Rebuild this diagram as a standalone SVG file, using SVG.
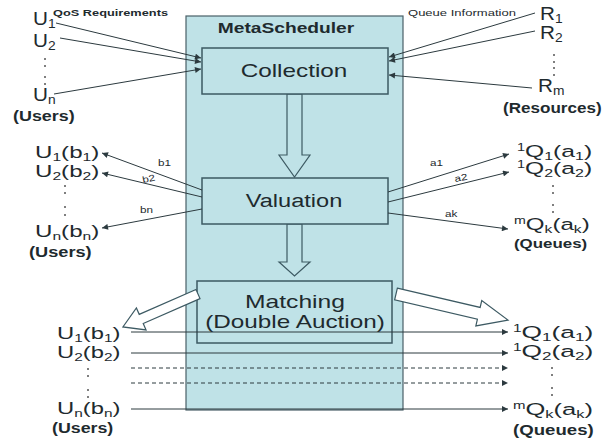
<svg xmlns="http://www.w3.org/2000/svg" width="606" height="447" viewBox="0 0 606 447">
<defs>
<style>
.t{font-family:"Liberation Sans",Arial,sans-serif;fill:#1e2a2e}
.top{font-size:18px}
.lab{font-size:17px}
.bold{font-weight:bold}
.ed{font-size:9px}
.box{fill:#bfe2e7;stroke:#3d5a63;stroke-width:1.5}
.main{fill:#bfe2e7;stroke:#4a6068;stroke-width:1.2}
.ln{stroke:#2c3a3f;stroke-width:1;fill:none}
.dash{stroke:#2c3a3f;stroke-width:1;fill:none;stroke-dasharray:4 3}
.hollow{fill:#ffffff;stroke:#3d5a63;stroke-width:1.2}
.hollow2{fill:#bfe2e7;stroke:#3d5a63;stroke-width:1.2}
.dot{fill:#555}
</style>
<marker id="ah" viewBox="0 0 10 10" refX="10" refY="5" markerWidth="7" markerHeight="6" markerUnits="userSpaceOnUse" orient="auto">
<path d="M0,0 L10,5 L0,10 z" fill="#2c3a3f"/>
</marker>
</defs>
<rect width="606" height="447" fill="#ffffff"/>

<g id="metascheduler">
<rect class="main" x="186" y="16" width="217" height="394"/>
<text class="t bold" font-size="14" text-anchor="middle" transform="translate(286,33) scale(1.37,1)">MetaScheduler</text>
</g>

<g id="flow-arrows">
<polygon class="hollow2" points="287,94 302,94 302,155 310,155 294.5,177 279,155 287,155"/>
<polygon class="hollow2" points="287,224 302,224 302,262 310,262 294.5,276 279,262 287,262"/>
</g>

<g id="collection">
<rect class="box" x="202" y="48" width="186" height="46"/>
<text class="t" font-size="18" text-anchor="middle" transform="translate(294,77) scale(1.35,1)">Collection</text>
</g>

<g id="valuation">
<rect class="box" x="202" y="178" width="186" height="46"/>
<text class="t" font-size="18" text-anchor="middle" transform="translate(294,207) scale(1.31,1)">Valuation</text>
</g>

<g id="matching">
<rect class="box" x="197" y="281" width="195" height="62"/>
<text class="t" font-size="18" text-anchor="middle" transform="translate(295,308) scale(1.37,1)">Matching</text>
<text class="t" font-size="18" text-anchor="middle" transform="translate(295,328) scale(1.35,1)">(Double Auction)</text>
</g>

<g id="users-top">
<text class="t top" transform="translate(33,25) scale(1.15,1)">U<tspan font-size="12" dy="3">1</tspan></text>
<text class="t bold" font-size="9" transform="translate(53,16) scale(1.42,1)">QoS Requirements</text>
<text class="t top" transform="translate(33,47) scale(1.15,1)">U<tspan font-size="12" dy="3">2</tspan></text>
<circle class="dot" cx="45" cy="59" r="1"/>
<circle class="dot" cx="45" cy="66" r="1"/>
<circle class="dot" cx="45" cy="77" r="1"/>
<circle class="dot" cx="45" cy="84" r="1"/>
<text class="t top" transform="translate(33,101) scale(1.15,1)">U<tspan font-size="12" dy="3">n</tspan></text>
<text class="t bold" font-size="14" transform="translate(13,121) scale(1.28,1)">(Users)</text>
</g>

<g id="resources">
<text class="t" font-size="9" transform="translate(408,16) scale(1.45,1)">Queue  Information</text>
<text class="t top" transform="translate(540,20) scale(1.15,1)">R<tspan font-size="12" dy="3">1</tspan></text>
<text class="t top" transform="translate(540,39) scale(1.15,1)">R<tspan font-size="12" dy="3">2</tspan></text>
<circle class="dot" cx="554" cy="55" r="1"/>
<circle class="dot" cx="554" cy="62" r="1"/>
<circle class="dot" cx="554" cy="68" r="1"/>
<circle class="dot" cx="554" cy="75" r="1"/>
<text class="t top" transform="translate(538,92) scale(1.15,1)">R<tspan font-size="12" dy="3">m</tspan></text>
<text class="t bold" font-size="14" transform="translate(503,113) scale(1.22,1)">(Resources)</text>
</g>

<g id="users-mid">
<text class="t lab" transform="translate(35,158) scale(1.42,1)">U<tspan font-size="11" dy="3">1</tspan><tspan dy="-3">(b</tspan><tspan font-size="11" dy="3">1</tspan><tspan dy="-3">)</tspan></text>
<text class="t lab" transform="translate(35,177) scale(1.42,1)">U<tspan font-size="11" dy="3">2</tspan><tspan dy="-3">(b</tspan><tspan font-size="11" dy="3">2</tspan><tspan dy="-3">)</tspan></text>
<circle class="dot" cx="65" cy="186" r="1"/>
<circle class="dot" cx="65" cy="193" r="1"/>
<circle class="dot" cx="65" cy="207" r="1"/>
<circle class="dot" cx="65" cy="215" r="1"/>
<text class="t lab" transform="translate(35,237) scale(1.42,1)">U<tspan font-size="11" dy="3">n</tspan><tspan dy="-3">(b</tspan><tspan font-size="11" dy="3">n</tspan><tspan dy="-3">)</tspan></text>
<text class="t bold" font-size="14" transform="translate(29,257) scale(1.3,1)">(Users)</text>
</g>

<g id="queues-mid">
<text class="t lab" transform="translate(517,157) scale(1.45,1)"><tspan font-size="10" dy="-6">1</tspan><tspan dy="6">Q</tspan><tspan font-size="11" dy="3">1</tspan><tspan dy="-3">(a</tspan><tspan font-size="11" dy="3">1</tspan><tspan dy="-3">)</tspan></text>
<text class="t lab" transform="translate(517,174) scale(1.45,1)"><tspan font-size="10" dy="-6">1</tspan><tspan dy="6">Q</tspan><tspan font-size="11" dy="3">2</tspan><tspan dy="-3">(a</tspan><tspan font-size="11" dy="3">2</tspan><tspan dy="-3">)</tspan></text>
<circle class="dot" cx="553" cy="186" r="1"/>
<circle class="dot" cx="553" cy="193" r="1"/>
<circle class="dot" cx="553" cy="205" r="1"/>
<circle class="dot" cx="553" cy="212" r="1"/>
<text class="t lab" transform="translate(514,230) scale(1.42,1)"><tspan font-size="10" dy="-6">m</tspan><tspan dy="6">Q</tspan><tspan font-size="11" dy="3">k</tspan><tspan dy="-3">(a</tspan><tspan font-size="11" dy="3">k</tspan><tspan dy="-3">)</tspan></text>
<text class="t bold" font-size="13" transform="translate(514,248) scale(1.3,1)">(Queues)</text>
</g>

<g id="users-bottom">
<text class="t lab" transform="translate(57,339) scale(1.4,1)">U<tspan font-size="11" dy="3">1</tspan><tspan dy="-3">(b</tspan><tspan font-size="11" dy="3">1</tspan><tspan dy="-3">)</tspan></text>
<text class="t lab" transform="translate(57,358) scale(1.4,1)">U<tspan font-size="11" dy="3">2</tspan><tspan dy="-3">(b</tspan><tspan font-size="11" dy="3">2</tspan><tspan dy="-3">)</tspan></text>
<circle class="dot" cx="88" cy="369" r="1"/>
<circle class="dot" cx="88" cy="376" r="1"/>
<circle class="dot" cx="88" cy="390" r="1"/>
<circle class="dot" cx="88" cy="397" r="1"/>
<text class="t lab" transform="translate(57,414) scale(1.4,1)">U<tspan font-size="11" dy="3">n</tspan><tspan dy="-3">(b</tspan><tspan font-size="11" dy="3">n</tspan><tspan dy="-3">)</tspan></text>
<text class="t bold" font-size="14" transform="translate(52,433) scale(1.27,1)">(Users)</text>
</g>

<g id="queues-bottom">
<text class="t lab" transform="translate(513,338) scale(1.55,1)"><tspan font-size="10" dy="-6">1</tspan><tspan dy="6">Q</tspan><tspan font-size="11" dy="3">1</tspan><tspan dy="-3">(a</tspan><tspan font-size="11" dy="3">1</tspan><tspan dy="-3">)</tspan></text>
<text class="t lab" transform="translate(513,357) scale(1.55,1)"><tspan font-size="10" dy="-6">1</tspan><tspan dy="6">Q</tspan><tspan font-size="11" dy="3">2</tspan><tspan dy="-3">(a</tspan><tspan font-size="11" dy="3">2</tspan><tspan dy="-3">)</tspan></text>
<circle class="dot" cx="552" cy="368" r="1"/>
<circle class="dot" cx="552" cy="375" r="1"/>
<circle class="dot" cx="552" cy="388" r="1"/>
<circle class="dot" cx="552" cy="395" r="1"/>
<text class="t lab" transform="translate(513,415) scale(1.5,1)"><tspan font-size="10" dy="-6">m</tspan><tspan dy="6">Q</tspan><tspan font-size="11" dy="3">k</tspan><tspan dy="-3">(a</tspan><tspan font-size="11" dy="3">k</tspan><tspan dy="-3">)</tspan></text>
<text class="t bold" font-size="14" transform="translate(513,435) scale(1.33,1)">(Queues)</text>
</g>

<g id="connectors">
<line class="ln" x1="56" y1="23" x2="201" y2="58" marker-end="url(#ah)"/>
<line class="ln" x1="60" y1="38" x2="201" y2="62" marker-end="url(#ah)"/>
<line class="ln" x1="54" y1="94" x2="201" y2="69" marker-end="url(#ah)"/>
<line class="ln" x1="535" y1="13" x2="389" y2="57" marker-end="url(#ah)"/>
<line class="ln" x1="535" y1="31" x2="389" y2="61" marker-end="url(#ah)"/>
<line class="ln" x1="532" y1="88" x2="389" y2="75" marker-end="url(#ah)"/>

<line class="ln" x1="202" y1="190" x2="102" y2="153" marker-end="url(#ah)"/>
<line class="ln" x1="202" y1="197" x2="102" y2="173" marker-end="url(#ah)"/>
<line class="ln" x1="202" y1="209" x2="102" y2="228" marker-end="url(#ah)"/>
<text class="t ed" transform="translate(158,166) scale(1.3,1)">b1</text>
<text class="t ed" transform="translate(143,183) rotate(-12) scale(1.3,1)">b2</text>
<text class="t ed" transform="translate(140,213) scale(1.3,1)">bn</text>

<line class="ln" x1="388" y1="192" x2="509" y2="154" marker-end="url(#ah)"/>
<line class="ln" x1="388" y1="202" x2="509" y2="172" marker-end="url(#ah)"/>
<line class="ln" x1="388" y1="213" x2="508" y2="229" marker-end="url(#ah)"/>
<text class="t ed" transform="translate(430,166) scale(1.3,1)">a1</text>
<text class="t ed" transform="translate(455,182) rotate(-10) scale(1.3,1)">a2</text>
<text class="t ed" transform="translate(445,217) scale(1.3,1)">ak</text>

<polygon class="hollow" transform="translate(198,294) rotate(156.3)" points="0,-5 62,-5 62,-12 82,0 62,12 62,5 0,5"/>
<polygon class="hollow" transform="translate(396,294) rotate(13.1)" points="0,-6 85,-6 85,-13 115,0 85,13 85,6 0,6"/>

<line class="ln" x1="131" y1="332" x2="508" y2="332" marker-end="url(#ah)"/>
<line class="ln" x1="131" y1="353" x2="508" y2="353" marker-end="url(#ah)"/>
<line class="dash" x1="131" y1="368" x2="508" y2="368" marker-end="url(#ah)"/>
<line class="dash" x1="131" y1="383" x2="508" y2="383" marker-end="url(#ah)"/>
<line class="ln" x1="131" y1="409" x2="508" y2="409" marker-end="url(#ah)"/>
</g>
</svg>
